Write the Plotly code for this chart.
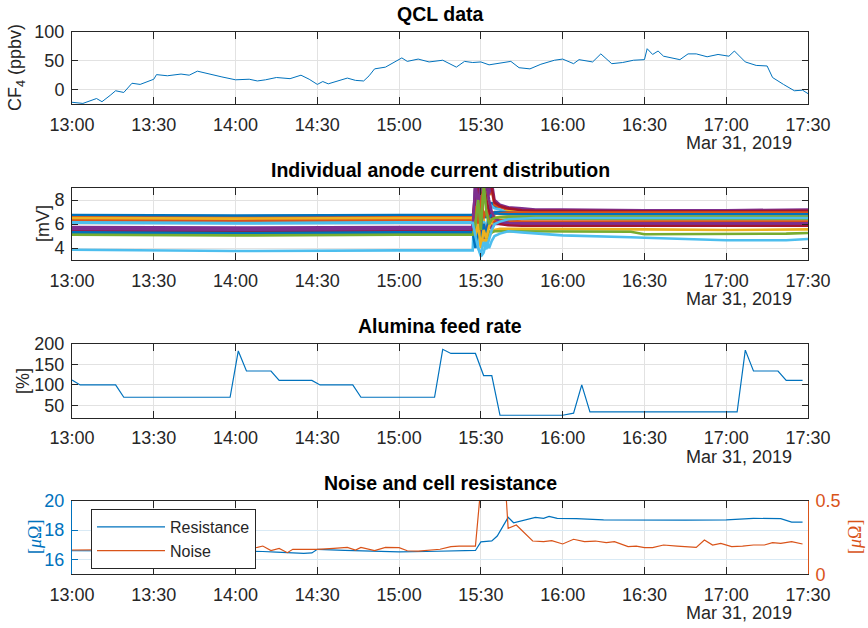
import plotly.graph_objects as go

W, H = 868, 628
DAY = "2019-03-31 "

# ---------------- Panel 1: QCL data ----------------
qcl_time = ["13:00", "13:04", "13:09", "13:11", "13:14", "13:16", "13:19", "13:22", "13:25", "13:28",
            "13:30", "13:31", "13:35", "13:40", "13:43", "13:46", "13:51", "13:55", "14:00", "14:05",
            "14:08", "14:11", "14:15", "14:20", "14:24", "14:27", "14:30", "14:32", "14:34", "14:38",
            "14:41", "14:44", "14:47", "14:49", "14:51", "14:55", "14:58", "15:01", "15:03", "15:07",
            "15:11", "15:16", "15:21", "15:24", "15:27", "15:30", "15:33", "15:39", "15:41", "15:44",
            "15:48", "15:52", "15:57", "16:00", "16:04", "16:06", "16:11", "16:14", "16:18", "16:22",
            "16:26", "16:30", "16:31", "16:33", "16:35", "16:37", "16:43", "16:46", "16:49", "16:53",
            "16:57", "17:01", "17:03", "17:07", "17:11", "17:15", "17:17", "17:21", "17:25", "17:28", "17:30"]
qcl_cf4 = [-22, -24, -15.5, -21, -10, -2, -5, 11, 9, 14,
           18, 26, 24, 27, 25, 32, 26, 22, 17, 18,
           15, 17, 21, 19, 25, 18, 9, 14, 10, 15,
           20, 16, 15, 24, 36, 39, 47, 55, 49, 53,
           48, 51, 39, 49, 47, 48, 43, 48, 49, 38,
           36, 44, 51, 53, 45, 52, 48, 62, 45, 47,
           51, 52, 71, 61, 67, 58, 52, 62, 62, 57,
           61, 58, 67, 48, 42, 41, 21, 9, -2, -1, -7]

# ---------------- Panel 2: anode currents ----------------
anode_time = ["13:00", "14:00", "15:00", "15:27", "15:28", "15:29", "15:30", "15:31", "15:32", "15:33",
              "15:34", "15:35", "15:37", "15:40", "15:45", "15:50", "16:00", "16:25", "16:30", "17:00",
              "17:22", "17:30"]
anode_mv = [
    [6.75, 6.7, 6.75, 6.75, 7.5, 8.2, 7.0, 8.6, 7.6, 7.3, 7.8, 7.4, 7.5, 7.3, 7.2, 7.15, 7.15, 7.1, 7.1, 7.1, 7.15, 7.15],
    [6.6, 6.55, 6.6, 6.6, 8.0, 7.2, 9.5, 8.0, 9.3, 8.4, 8.8, 7.6, 7.4, 7.2, 7.1, 7.05, 7.05, 7.0, 7.0, 7.0, 7.0, 7.05],
    [6.45, 6.4, 6.45, 6.45, 6.0, 7.0, 5.5, 6.5, 4.6, 6.2, 5.5, 6.8, 7.0, 7.1, 7.0, 7.0, 6.95, 6.95, 6.9, 6.9, 6.95, 7.0],
    [5.65, 5.6, 5.65, 5.65, 9.5, 9.5, 8.0, 9.5, 9.5, 8.5, 9.5, 8.0, 7.6, 7.4, 7.3, 7.2, 7.2, 7.15, 7.15, 7.15, 7.2, 7.2],
    [5.2, 5.15, 5.2, 5.2, 7.0, 9.5, 6.5, 8.0, 9.5, 7.0, 6.6, 6.4, 6.3, 6.4, 6.45, 6.45, 6.45, 6.4, 6.4, 6.4, 6.4, 6.4],
    [6.25, 6.2, 6.25, 6.25, 5.8, 6.5, 5.5, 6.2, 5.8, 6.8, 7.5, 7.3, 7.2, 6.9, 6.8, 6.75, 6.7, 6.7, 6.65, 6.65, 6.7, 6.7],
    [5.45, 5.4, 5.45, 5.45, 9.5, 8.5, 9.5, 9.5, 8.8, 9.5, 9.0, 7.8, 7.5, 7.3, 7.15, 7.1, 7.1, 7.05, 7.05, 7.05, 7.1, 7.1],
    [6.7, 6.65, 6.7, 6.7, 6.2, 7.5, 6.0, 7.0, 6.5, 7.4, 6.9, 7.0, 7.0, 6.95, 6.9, 6.9, 6.9, 6.85, 6.85, 6.85, 6.9, 6.9],
    [6.55, 6.5, 6.55, 6.55, 5.5, 6.8, 5.0, 6.0, 5.2, 6.5, 7.0, 6.9, 6.9, 6.95, 6.95, 6.95, 6.9, 6.9, 6.9, 6.9, 6.9, 6.95],
    [5.15, 5.1, 5.15, 5.15, 4.5, 5.2, 4.2, 4.8, 4.4, 5.0, 5.3, 5.5, 5.6, 5.6, 5.6, 5.6, 5.55, 5.55, 5.55, 5.5, 5.55, 5.55],
    [5.55, 5.5, 5.55, 5.55, 7.0, 5.0, 6.2, 4.8, 5.5, 6.2, 5.6, 6.0, 6.0, 6.0, 5.95, 5.95, 5.95, 5.95, 5.9, 5.9, 5.95, 5.95],
    [5.25, 5.2, 5.25, 5.25, 4.8, 5.6, 4.5, 5.2, 4.8, 5.4, 5.3, 5.4, 5.4, 5.4, 5.4, 5.35, 5.35, 5.35, 5.15, 5.15, 5.2, 5.25],
    [3.85, 3.75, 3.8, 3.8, 9.5, 4.0, 3.3, 3.6, 4.5, 4.0, 4.6, 5.0, 5.2, 5.4, 5.3, 5.2, 5.05, 4.9, 4.85, 4.65, 4.65, 4.75],
    [5.35, 5.3, 5.35, 5.35, 8.5, 9.5, 7.5, 9.5, 8.0, 7.0, 6.5, 6.2, 6.0, 5.9, 5.85, 5.85, 5.85, 5.8, 5.8, 5.8, 5.85, 5.85],
    [5.3, 5.25, 5.3, 5.3, 4.0, 5.5, 4.5, 6.0, 5.0, 6.5, 6.8, 6.9, 6.85, 6.8, 6.8, 6.8, 6.8, 6.75, 6.75, 6.75, 6.8, 6.8],
    [6.35, 6.3, 6.35, 6.35, 7.5, 6.0, 8.5, 6.5, 7.2, 6.3, 6.2, 6.3, 6.3, 6.25, 6.2, 6.2, 6.2, 6.2, 6.2, 6.2, 6.2, 6.2],
    [6.5, 6.45, 6.5, 6.5, 5.0, 6.0, 4.0, 5.5, 4.8, 5.8, 6.3, 6.5, 6.6, 6.6, 6.6, 6.6, 6.6, 6.6, 6.55, 6.55, 6.6, 6.6],
    [5.75, 5.7, 5.75, 5.75, 9.5, 7.5, 9.5, 8.5, 9.5, 8.0, 7.0, 6.5, 6.2, 6.1, 6.05, 6.05, 6.05, 6.05, 6.0, 6.0, 6.05, 6.05],
    [5.1, 5.05, 5.1, 5.1, 6.0, 8.0, 5.5, 9.5, 7.0, 6.0, 6.4, 6.5, 6.55, 6.6, 6.6, 6.6, 6.6, 6.55, 6.55, 6.55, 6.6, 6.6],
    [6.1, 6.05, 6.1, 6.1, 5.0, 4.0, 3.5, 4.5, 3.9, 4.8, 5.5, 6.0, 6.2, 6.4, 6.45, 6.5, 6.5, 6.5, 6.45, 6.45, 6.5, 6.5],
]
matlab_colors = ["#0072BD", "#D95319", "#EDB120", "#7E2F8E", "#77AC30", "#4DBEEE", "#A2142F"]

# ---------------- Panel 3: alumina feed rate ----------------
feed_time = ["13:00", "13:03", "13:16", "13:19", "13:58", "14:01", "14:04", "14:13", "14:16", "14:28",
             "14:31", "14:43", "14:46", "15:13", "15:16", "15:19", "15:28", "15:31", "15:34", "15:37",
             "16:00", "16:04", "16:07", "16:10", "17:04", "17:07", "17:10", "17:19", "17:22", "17:28"]
feed_pct = [112, 100, 100, 70, 70, 183, 134, 134, 111, 111,
            100, 100, 70, 70, 187, 177, 177, 123, 123, 26,
            26, 31, 100, 34, 34, 185, 134, 134, 111, 111]

# ---------------- Panel 4: noise and resistance ----------------
res_time = ["13:00", "13:10", "13:20", "13:30", "13:40", "13:50", "14:00", "14:10", "14:15", "14:20",
            "14:25", "14:28", "14:30", "14:40", "14:50", "15:00", "15:10", "15:20", "15:28", "15:30",
            "15:34", "15:36", "15:40", "15:42", "15:46", "15:50", "15:53", "15:55", "15:58", "16:05",
            "16:15", "16:30", "16:45", "17:00", "17:10", "17:20", "17:24", "17:28"]
res_uohm = [16.6, 16.6, 16.58, 16.6, 16.6, 16.58, 16.6, 16.55, 16.5, 16.45,
            16.42, 16.45, 16.7, 16.62, 16.55, 16.53, 16.55, 16.6, 16.62, 17.2,
            17.27, 17.6, 18.87, 18.5, 18.7, 18.87, 18.8, 18.93, 18.8, 18.78,
            18.7, 18.67, 18.68, 18.7, 18.8, 18.78, 18.55, 18.55]
noise_time = ["13:00", "13:05", "13:10", "13:20", "13:30", "13:40", "13:50", "14:00", "14:05", "14:08",
              "14:10", "14:13", "14:16", "14:19", "14:21", "14:24", "14:27", "14:30", "14:36", "14:41",
              "14:44", "14:46", "14:51", "14:55", "15:00", "15:03", "15:07", "15:11", "15:15", "15:19",
              "15:22", "15:28", "15:30", "15:34", "15:38", "15:40", "15:43", "15:49", "15:53", "15:56",
              "16:00", "16:04", "16:08", "16:12", "16:16", "16:19", "16:24", "16:27", "16:30", "16:33",
              "16:37", "16:42", "16:46", "16:49", "16:52", "16:55", "16:58", "17:02", "17:06", "17:10",
              "17:14", "17:17", "17:20", "17:24", "17:28"]
noise_val = [0.165, 0.165, 0.17, 0.168, 0.172, 0.17, 0.175, 0.172, 0.18, 0.183,
             0.192, 0.161, 0.176, 0.147, 0.17, 0.17, 0.175, 0.17, 0.176, 0.183,
             0.165, 0.183, 0.161, 0.183, 0.181, 0.16, 0.158, 0.165, 0.17, 0.188,
             0.192, 0.192, 0.6, 0.9, 0.9, 0.312, 0.335, 0.226, 0.222, 0.229,
             0.206, 0.238, 0.222, 0.226, 0.215, 0.222, 0.188, 0.192, 0.181, 0.181,
             0.199, 0.192, 0.188, 0.183, 0.233, 0.199, 0.21, 0.188, 0.192, 0.199,
             0.199, 0.215, 0.21, 0.222, 0.206]


def ts(lst):
    return [DAY + t for t in lst]


AX = "#262626"
GRID = "#e2e2e2"
FONT = "Liberation Sans"
BLUE = "#0072BD"
ORANGE = "#D95319"

fig = go.Figure()
fig.add_trace(go.Scatter(x=ts(qcl_time), y=qcl_cf4, mode="lines", line=dict(color=BLUE, width=1),
                         xaxis="x", yaxis="y", showlegend=False))
for i, vals in enumerate(anode_mv):
    fig.add_trace(go.Scatter(x=ts(anode_time), y=vals, mode="lines",
                             line=dict(color=matlab_colors[i % 7], width=2.6),
                             xaxis="x2", yaxis="y2", showlegend=False))
fig.add_trace(go.Scatter(x=ts(feed_time), y=feed_pct, mode="lines", line=dict(color=BLUE, width=1.2),
                         xaxis="x3", yaxis="y3", showlegend=False))
fig.add_trace(go.Scatter(x=ts(res_time), y=res_uohm, mode="lines", name="Resistance",
                         line=dict(color=BLUE, width=1.2), xaxis="x4", yaxis="y4"))
fig.add_trace(go.Scatter(x=ts(noise_time), y=noise_val, mode="lines", name="Noise",
                         line=dict(color=ORANGE, width=1.2), xaxis="x4", yaxis="y5"))

# panel pixel geometry (top, bottom)
panels = [(32, 104), (188, 260), (344, 417.7), (500.7, 574.3)]
XL, XR = 72, 808


def ydom(top, bot):
    return [1 - bot / H, 1 - top / H]


tickfont = dict(family=FONT, size=18, color=AX)


def xaxis_cfg(anchor):
    return dict(type="date", range=[DAY + "13:00", DAY + "17:30"], tick0=DAY + "13:00", dtick=1800000,
                tickformat="%H:%M", ticks="inside", ticklen=7, tickcolor=AX, showline=True, linecolor=AX,
                linewidth=1, mirror="ticks", showgrid=True, gridcolor=GRID, zeroline=False,
                tickfont=tickfont, domain=[XL / W, XR / W], anchor=anchor, ticklabelstandoff=4,
                automargin=False)


def yaxis_cfg(anchor, dom, rng, tv, color=AX, grid=GRID, mirror="ticks"):
    return dict(range=rng, tickvals=tv, ticks="inside", ticklen=6, tickcolor=color, showline=True,
                linecolor=color, linewidth=1, mirror=mirror, showgrid=True, gridcolor=grid, zeroline=False,
                tickfont=dict(family=FONT, size=18, color=color), domain=ydom(*dom), anchor=anchor,
                ticklabelstandoff=3, automargin=False)


layout = dict(
    template="none",
    width=W, height=H, margin=dict(l=0, r=0, t=0, b=0, autoexpand=False),
    plot_bgcolor="white", paper_bgcolor="white",
    xaxis=xaxis_cfg("y"),
    xaxis2=xaxis_cfg("y2"),
    xaxis3=xaxis_cfg("y3"),
    xaxis4=xaxis_cfg("y4"),
    yaxis=yaxis_cfg("x", panels[0], [-25, 100], [0, 50, 100]),
    yaxis2=yaxis_cfg("x2", panels[1], [3, 9], [4, 6, 8]),
    yaxis3=yaxis_cfg("x3", panels[2], [20, 200], [50, 100, 150, 200]),
    yaxis4=yaxis_cfg("x4", panels[3], [15, 20], [16, 18, 20], color=BLUE, grid="#d9eaf5", mirror=False),
    yaxis5=dict(range=[0, 0.5], tickvals=[0, 0.5], ticks="inside", ticklen=6, tickcolor=ORANGE,
                showline=True, linecolor=ORANGE, linewidth=1, showgrid=False, zeroline=False,
                tickfont=dict(family=FONT, size=18, color=ORANGE), overlaying="y4", side="right",
                anchor="x4", ticklabelstandoff=3, automargin=False),
    legend=dict(x=91 / W, y=1 - 509 / H, xanchor="left", yanchor="top", bgcolor="white",
                bordercolor=AX, borderwidth=1, font=dict(family=FONT, size=16, color=AX),
                itemwidth=68, tracegroupgap=0),
    showlegend=True,
)
fig.update_layout(**layout)

titles = ["QCL data", "Individual anode current distribution", "Alumina feed rate", "Noise and cell resistance"]
ann = []
for (top, bot), t in zip(panels, titles):
    ann.append(dict(text="<b>" + t + "</b>", x=(XL + XR) / 2 / W, y=1 - (top - 5) / H, xref="paper",
                    yref="paper", xanchor="center", yanchor="bottom", showarrow=False,
                    font=dict(family=FONT, size=19.5, color="#000000")))
    ann.append(dict(text="Mar 31, 2019", x=739 / W, y=1 - (bot + 39) / H, xref="paper", yref="paper",
                    xanchor="center", yanchor="middle", showarrow=False, font=tickfont))

ylabels = [("CF<sub>4</sub> (ppbv)", 17, 68, AX, FONT),
           ("[mV]", 43, 224, AX, FONT),
           ("[%]", 23, 381, AX, FONT),
           ("[<i>μ</i>Ω]", 35, 537, BLUE, "Liberation Serif"),
           ("[<i>μ</i>Ω]", 855, 537, ORANGE, "Liberation Serif")]
for text, xp, yp, col, fam in ylabels:
    ann.append(dict(text=text, x=xp / W, y=1 - yp / H, xref="paper", yref="paper", xanchor="center",
                    yanchor="middle", textangle=-90, showarrow=False,
                    font=dict(family=fam, size=18, color=col)))
fig.update_layout(annotations=ann)

fig.write_html("out.html")
